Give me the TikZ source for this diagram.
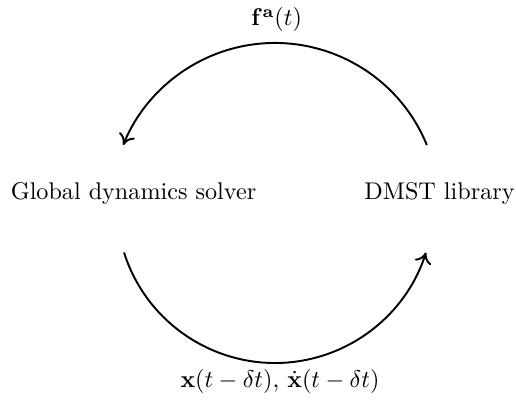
\documentclass[tikz,border=0pt]{standalone}
\usetikzlibrary{arrows.meta}
\begin{document}
\begin{tikzpicture}[x=0.414pt,y=0.414pt,
  flow/.style={line width=0.8pt, -{To[length=4.5pt,width=7pt]}},
  lbl/.style={anchor=base, inner sep=0pt}]
\useasboundingbox (0,0) rectangle (516,405);
\node[lbl] (gds) at (133.5,205) {Global dynamics solver};
\node[lbl] (dmst) at (439.5,205) {DMST library};
\node[lbl] (fa) at (276.7,379.2) {$\mathbf{f}^{\mathbf{a}}(t)$};
\node[lbl] (xs) at (280,17.2) {$\mathbf{x}(t-\delta t)$, $\dot{\mathbf{x}}(t-\delta t)$};
\coordinate (topc) at (275,198);
\coordinate (botc) at (275,200.4);
\coordinate (tstart) at ([shift={(22.2:164)}]topc);
\coordinate (bstart) at ([shift={(197.6:158.4)}]botc);
\draw[flow] (tstart) arc[start angle=22.2, end angle=157.8, radius=164];
\draw[flow] (bstart) arc[start angle=197.6, end angle=342.4, radius=158.4];
\end{tikzpicture}
\end{document}
